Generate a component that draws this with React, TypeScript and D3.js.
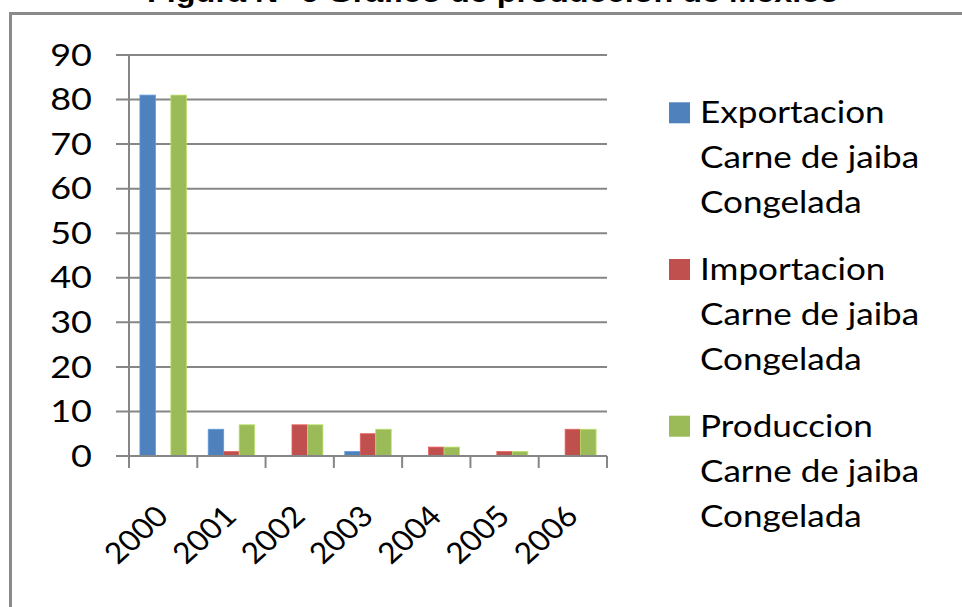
import React from "react";
import * as d3 from "d3";

const categories = ["2000", "2001", "2002", "2003", "2004", "2005", "2006"];
const seriesNames = [
  ["Exportacion", "Carne de jaiba", "Congelada"],
  ["Importacion", "Carne de jaiba", "Congelada"],
  ["Produccion", "Carne de jaiba", "Congelada"],
];
const exportacion = [81, 6, 0, 1, 0, 0, 0];
const importacion = [0, 1, 7, 5, 2, 1, 6];
const produccion = [81, 7, 7, 6, 2, 1, 6];
const seriesColors = ["#4F81BD", "#C0504D", "#9BBB59"];
const yTicks = [0, 10, 20, 30, 40, 50, 60, 70, 80, 90];
const title = "Figura N° 6  Grafico de produccion de Mexico";

export default function App() {
  const W = 962;
  const H = 607;
  const left = 129;
  const right = 607;
  const top = 55;
  const bottom = 456;
  const series = [exportacion, importacion, produccion];

  const y = d3.scaleLinear().domain([0, 90]).range([bottom, top]);
  const x = d3.scaleBand<string>().domain(categories).range([left, right]).padding(0);
  const bw = x.bandwidth();
  const gap = bw * 0.16;
  const xs = d3
    .scaleBand<number>()
    .domain([0, 1, 2])
    .range([gap, bw - gap])
    .padding(0);

  const font = "Lato, 'Noto Sans', sans-serif";
  const sx = 1.2;
  const gridColor = "#868686";

  return (
    <div style={{ position: "absolute", left: 0, top: 0 }}>
      <svg width={W} height={H} style={{ display: "block", background: "#fff" }}>
        <rect x={0} y={0} width={W} height={H} fill="#fff" />
        <text
          x={493}
          y={2}
          textAnchor="middle"
          fontFamily="'Liberation Sans', Arial, sans-serif"
          fontWeight="bold"
          fontSize={28}
          textLength={692}
          lengthAdjust="spacingAndGlyphs"
          fill="#000"
        >
          {title}
        </text>
        <rect x={10.5} y={13.5} width={1100} height={800} fill="none" stroke="#8a8a8a" strokeWidth={3} />

        {/* gridlines + y ticks */}
        {yTicks.map((t) => (
          <line
            key={"g" + t}
            x1={116}
            x2={right}
            y1={y(t)}
            y2={y(t)}
            stroke={gridColor}
            strokeWidth={2}
          />
        ))}
        {/* y axis */}
        <line x1={left} x2={left} y1={top} y2={bottom} stroke={gridColor} strokeWidth={2} />
        {/* x ticks */}
        {d3.range(categories.length + 1).map((i) => {
          const xx = left + i * bw;
          return (
            <line key={"xt" + i} x1={xx} x2={xx} y1={bottom} y2={468} stroke={gridColor} strokeWidth={2} />
          );
        })}

        {/* bars */}
        {categories.map((c, ci) =>
          series.map((s, si) => {
            const v = s[ci];
            if (v <= 0) return null;
            const bx = (x(c) as number) + (xs(si) as number);
            const col = seriesColors[si];
            return (
              <rect
                key={c + "-" + si}
                x={bx}
                y={y(v)}
                width={xs.bandwidth()}
                height={bottom - y(v)}
                fill={col}
                stroke={d3.color(col)!.brighter(0.5).formatHex()}
                strokeWidth={0.8}
              />
            );
          })
        )}
        {/* redraw x axis line over bars */}
        <line x1={116} x2={right} y1={bottom} y2={bottom} stroke={gridColor} strokeWidth={2} />

        {/* y labels */}
        {yTicks.map((t) => (
          <text
            key={"yl" + t}
            transform={`translate(92,${y(t) + 10.7}) scale(${sx},1)`}
            textAnchor="end"
            fontFamily={font}
            fontSize={30}
            fill="#000"
          >
            {t}
          </text>
        ))}

        {/* x labels */}
        {categories.map((c) => {
          const cx = (x(c) as number) + bw / 2 + 7;
          return (
            <text
              key={"xl" + c}
              transform={`translate(${cx},518) scale(1.1,1) rotate(-45)`}
              textAnchor="end"
              fontFamily={font}
              fontSize={29}
              fill="#000"
            >
              {c}
            </text>
          );
        })}

        {/* legend */}
        {seriesNames.map((lines, si) => {
          const base = 123.3 + si * 156.7;
          return (
            <g key={"lg" + si}>
              <rect x={669} y={base - 21} width={21} height={21} fill={seriesColors[si]} />
              {lines.map((ln, li) => (
                <text
                  key={li}
                  transform={`translate(700,${base + li * 45}) scale(1.17,1)`}
                  fontFamily={font}
                  fontSize={30}
                  fill="#000"
                >
                  {ln}
                </text>
              ))}
            </g>
          );
        })}
      </svg>
    </div>
  );
}
